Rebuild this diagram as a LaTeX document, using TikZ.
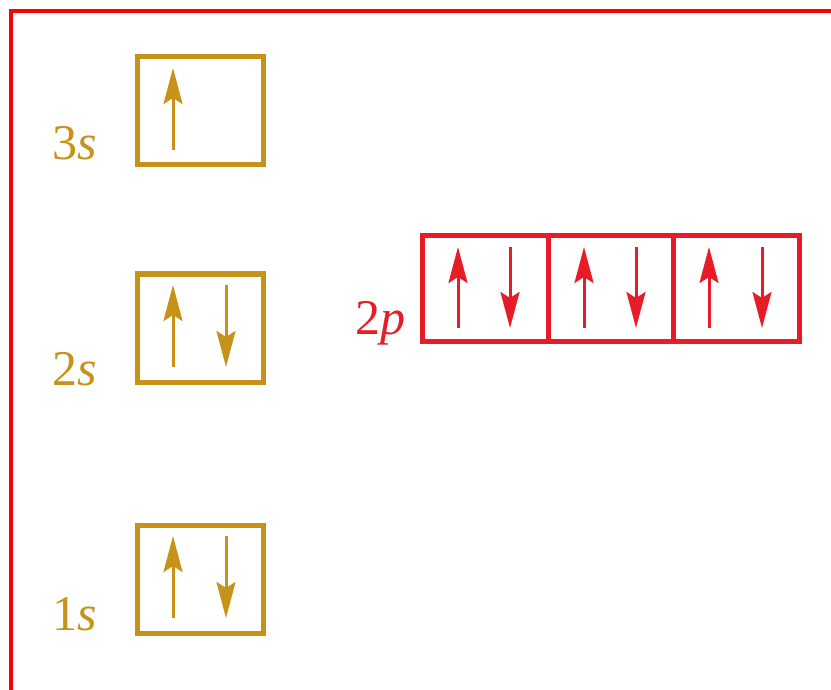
\documentclass[tikz,border=0pt]{standalone}
\usepackage{fontspec}
\newfontfamily\lblfont{Liberation Serif}
\usetikzlibrary{arrows.meta}
\definecolor{gold}{RGB}{198,146,24}
\definecolor{pred}{RGB}{232,28,40}
\definecolor{frame}{RGB}{255,0,0}
\begin{document}
\begin{tikzpicture}[x=0.5pt,y=-0.5pt,
  sbox/.style={draw=gold,line width=2.5pt,minimum width=63pt,minimum height=54pt,inner sep=0pt},
  pbox/.style={draw=pred,line width=2.5pt,minimum width=62.83pt,minimum height=53pt,inner sep=0pt},
  lbl/.style={anchor=base west,inner sep=0pt,font=\lblfont\fontsize{25}{30}\selectfont},
  spin/.style={line width=1.5pt,-{Stealth[length=18pt,width=9.5pt,inset=3pt]}}]
\useasboundingbox (0,0) rectangle (831,690);
% frame (top and left only)
\draw[frame,line width=2.3pt] (831,11) -- (11,11) -- (11,690);
% s orbitals
\node[sbox] (b3) at (200.5,110.5) {};
\node[sbox] (b2) at (200.5,328) {};
\node[sbox] (b1) at (200.5,579.5) {};
\node[lbl,text=gold] (l3) at (52,160) {3\textit{s}};
\node[lbl,text=gold] (l2) at (52,385) {2\textit{s}};
\node[lbl,text=gold] (l1) at (52,630) {1\textit{s}};
% s spins
\draw[spin,gold] (173,150) -- (173,68);
\draw[spin,gold] (173,367) -- (173,285);
\draw[spin,gold] (226,285) -- (226,367);
\draw[spin,gold] (173,618) -- (173,536);
\draw[spin,gold] (226,536) -- (226,618);
% p orbitals
\node[pbox] (p1) at (485.3,288.5) {};
\node[pbox] (p2) at (611,288.5) {};
\node[pbox] (p3) at (736.7,288.5) {};
\node[lbl,text=pred] (lp) at (355,335) {2\textit{p}};
\draw[spin,pred] (458,328) -- (458,247);
\draw[spin,pred] (510,247) -- (510,328);
\draw[spin,pred] (584,328) -- (584,247);
\draw[spin,pred] (636,247) -- (636,328);
\draw[spin,pred] (709,328) -- (709,247);
\draw[spin,pred] (762,247) -- (762,328);
\end{tikzpicture}
\end{document}
